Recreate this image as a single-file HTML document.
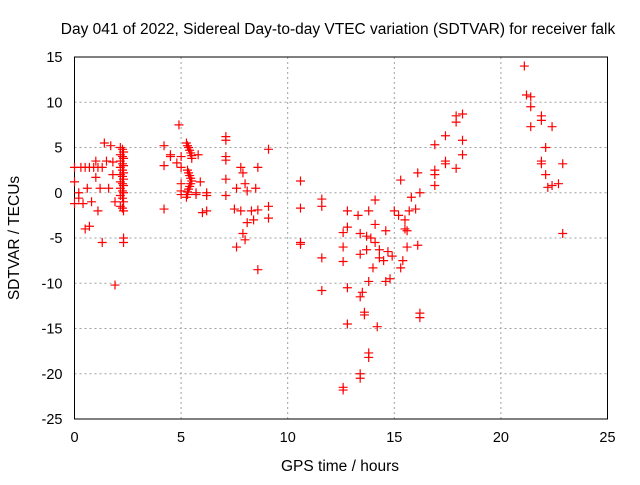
<!DOCTYPE html>
<html><head><meta charset="utf-8"><style>
body{margin:0;background:#fff;}
svg text{font-family:"Liberation Sans",sans-serif;fill:#000;}
</style></head><body>
<svg id="chart" width="640" height="480" viewBox="0 0 640 480" xmlns="http://www.w3.org/2000/svg">
<text x="338" y="34" font-size="15.5" text-anchor="middle">Day 041 of 2022, Sidereal Day-to-day VTEC variation (SDTVAR) for receiver falk</text>
<g id="grid"></g>
<g id="axes"></g>
<g id="points"></g>
<text x="340" y="471" font-size="15.5" text-anchor="middle">GPS time / hours</text>
<text transform="translate(19,238) rotate(-90)" font-size="15.5" text-anchor="middle">SDTVAR / TECUs</text>
</svg>
<script>
const xTicks=[0,5,10,15,20,25];
const yTicks=[15,10,5,0,-5,-10,-15,-20,-25];
const ptsX=[0,0,0,0.2,0.3,0.4,0.5,0.5,0.7,0.8,0.9,1,1,1.1,1.2,1.3,1.3,1.4,1.5,1.6,1.7,1.8,1.8,1.9,1.9,0.6,0.2,1.1,0.7,
2.15,2.25,2.3,2.15,2.25,2.3,2.15,2.25,2.3,2.15,2.25,2.3,2.15,2.25,2.3,2.15,2.25,2.3,2.15,2.25,2.3,2.15,2.25,2.3,2.15,2.25,2.3,2.3,2.3,
4.2,4.2,4.2,4.5,4.5,4.8,4.9,5,5,5,5,5,
5.25,5.3,5.35,5.4,5.45,5.5,5.5,5.3,5.35,5.4,5.45,5.5,5.45,5.4,5.35,5.3,5.3,5.25,
5.7,5.7,5.8,5.9,6,6.2,6.2,6.2,7.1,7.1,7.1,7.1,7.1,7.1,7.5,7.6,7.6,7.8,7.8,7.9,7.9,8,8,8.1,8.1,8.3,8.4,8.5,8.6,8.6,8.6,9.1,9.1,9.1,
10.6,10.6,10.6,10.6,11.6,11.6,11.6,11.6,12.6,12.6,12.6,12.6,12.6,12.8,12.8,12.8,12.8,13.3,13.4,13.4,13.4,13.4,13.4,13.5,13.6,13.6,13.7,13.7,13.8,13.8,13.8,13.8,13.9,14,14.1,14.1,14.1,14.2,14.3,14.3,14.5,14.6,14.6,14.7,14.8,14.9,15,15.2,15.3,15.3,15.4,15.5,15.5,15.6,15.6,15.7,15.8,16,16.1,16.2,16.1,16.2,16.2,
16.9,16.9,16.9,16.9,17.4,17.4,17.4,17.9,17.9,17.9,18.2,18.2,18.2,
21.1,21.2,21.4,21.4,21.4,21.9,21.9,21.9,21.9,22.1,22.1,22.2,22.4,22.4,22.7,22.9,22.9];
const ptsY=[2.8,1.2,-1.2,0,2.8,-1.2,-4,2.8,-3.7,-1,2.8,3.5,1.7,-2,0.5,-5.5,2.8,5.5,3.5,0.5,5.2,2,3.4,-10.2,-1,0.5,-0.6,2.8,2.8,
5,4.8,4.5,4.2,4,3.8,3.5,3.2,3,2.8,2.5,2.2,2,1.8,1.5,1.2,1,0.8,0.5,0.2,0,-0.3,-0.6,-1,-1.5,-1.7,-2,-5,-5.5,
5.2,3,-1.8,4,4.2,3.3,7.5,4,2.8,1,0.2,-0.2,
5.5,5.2,5,4.7,4.4,4.1,3.8,2.5,2.2,1.9,1.6,1.3,1,0.7,0.4,0.1,-0.2,-0.5,
-0.2,0,4.2,1.2,-2.2,-0.3,-2,0,6.2,5.8,4,3.6,1.5,-0.3,-1.8,-6,0.5,-2,2.8,2.2,-4.5,-5.2,1,0.2,-3.3,-2,-3,0.5,2.8,-8.5,-1.9,4.8,-1.5,-2.8,
1.3,-1.7,-5.5,-5.7,-0.7,-1.5,-7.2,-10.8,-4.4,-6,-7.6,-21.5,-21.8,-2,-3.8,-10.5,-14.5,-2.5,-4.5,-6.8,-11.5,-20,-20.5,-11,-13.2,-13.5,-4.8,-6.3,-2,-9.8,-17.7,-18.2,-5,-8.3,-5.5,-0.8,-3.5,-14.8,-6.3,-7.2,-7.5,-9.8,-4.2,-6.5,-9.5,-7,-2,-2.5,1.4,-8.3,-7.5,-3,-4,-4.2,-6,-2,-0.5,-1.8,2.2,0,-5.8,-13.3,-13.8,
5.3,2,0.8,2.5,6.3,3.5,3.2,8.5,7.8,2.7,8.7,5.8,4.2,
14,10.8,10.6,9.5,7.3,8.5,8,3.5,3.2,5,2,0.6,7.3,0.8,1,3.2,-4.5];
const X0=74.5,X1=607.5,Y0=419,Y1=57;
const sx=v=>X0+(v-0)/25*(X1-X0);
const sy=v=>Y0-(v+25)/40*(Y0-Y1);
const NS="http://www.w3.org/2000/svg";
const grid=document.getElementById('grid'),axes=document.getElementById('axes'),pts=document.getElementById('points');
function mk(tag,attrs,parent){const e=document.createElementNS(NS,tag);for(const k in attrs)e.setAttribute(k,attrs[k]);parent.appendChild(e);return e;}
xTicks.forEach(t=>{
  if(t>0&&t<25){const l=mk('line',{x1:sx(t),x2:sx(t),y1:Y0,y2:Y1,stroke:'#a0a0a0','stroke-dasharray':'2,3'},grid);
  
  }
  const tx=mk('text',{x:sx(t),y:Y0+23,'font-size':14.5,'text-anchor':'middle'},axes);tx.textContent=t;
  
  
});
yTicks.forEach(t=>{
  if(t>-25&&t<15){const l=mk('line',{x1:X0,x2:X1,y1:sy(t),y2:sy(t),stroke:'#a0a0a0','stroke-dasharray':'2,3'},grid);
  
  }
  const tx=mk('text',{x:X0-12,y:sy(t)+5,'font-size':14.5,'text-anchor':'end'},axes);tx.textContent=t;
  
  
});
const box=mk('rect',{x:X0,y:Y1,width:X1-X0,height:Y0-Y1,fill:'none',stroke:'#000','stroke-width':1},axes);


for(let i=0;i<ptsX.length;i++){
  const x=sx(ptsX[i]),y=sy(ptsY[i]);
  const p=mk('path',{d:`M${x-4.5},${y}H${x+4.5}M${x},${y-4.5}V${y+4.5}`,stroke:'#f00','stroke-width':1.2,fill:'none'},pts);
  
  
}
</script>
</body></html>
